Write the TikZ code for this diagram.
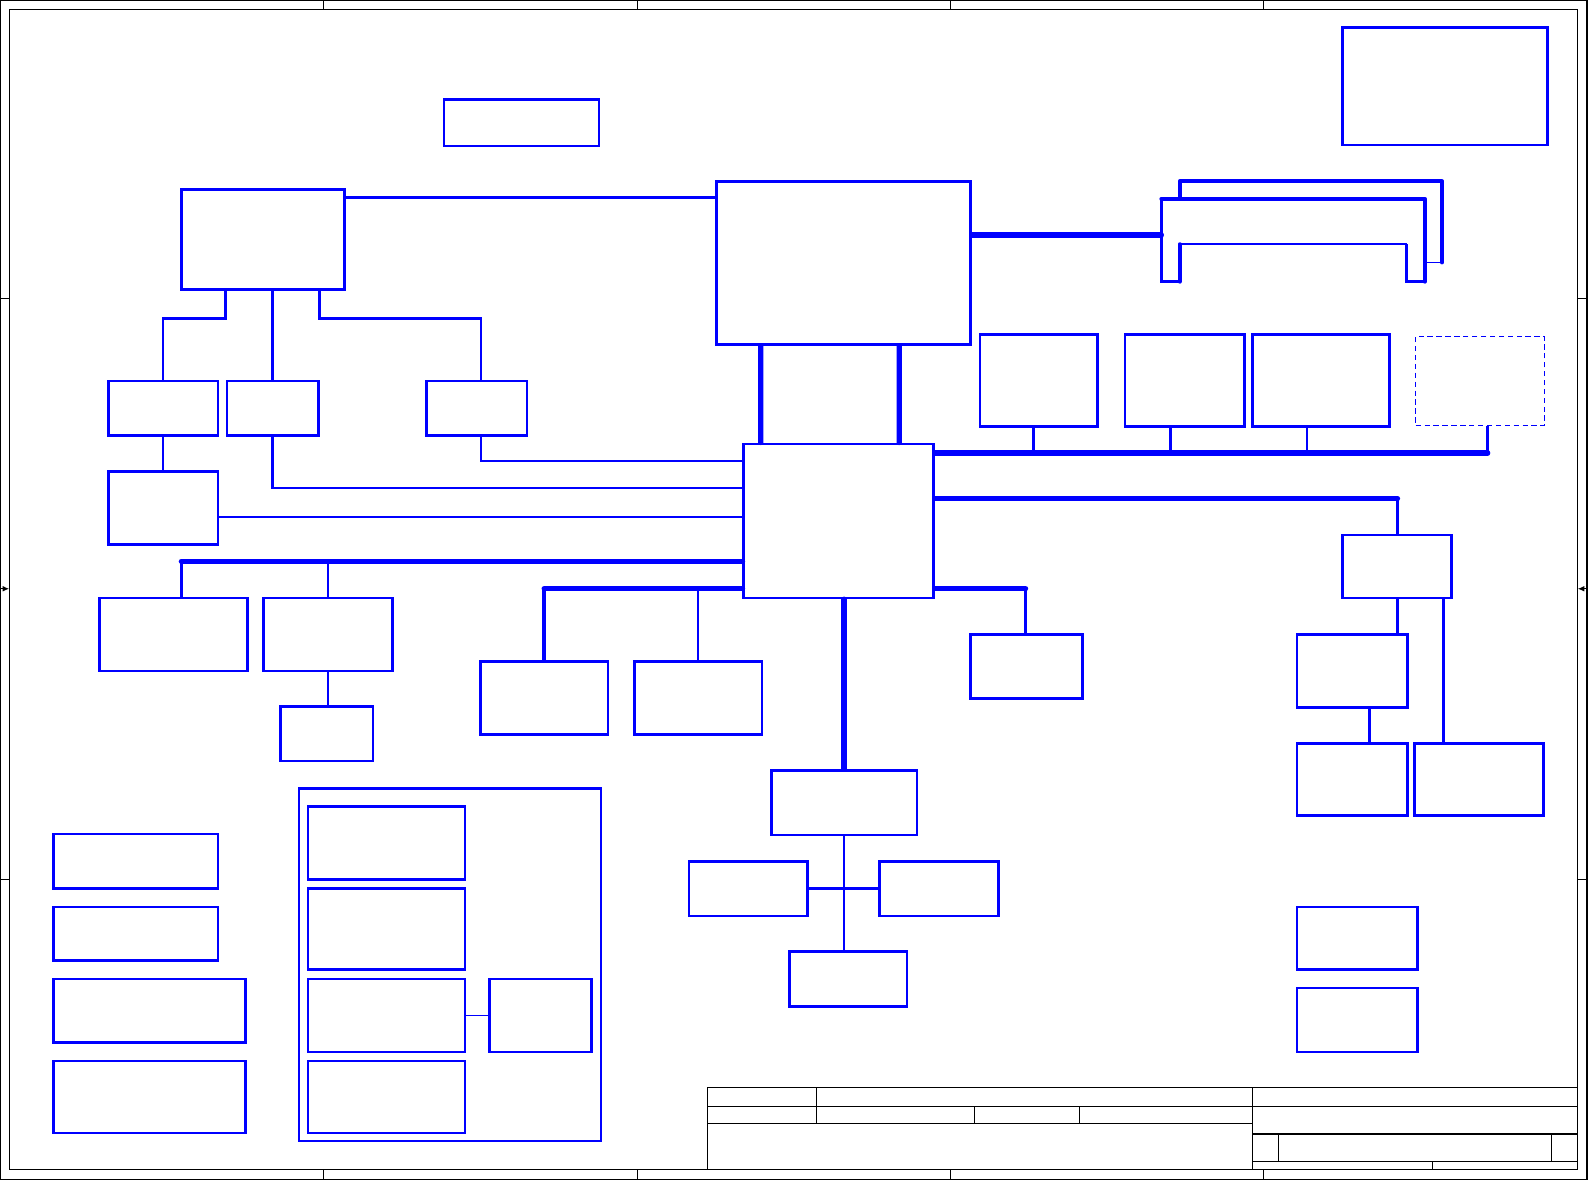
\documentclass[tikz,border=0pt]{standalone}
\usetikzlibrary{calc,arrows.meta}
\begin{document}
\begin{tikzpicture}[x=0.01cm, y=-0.01cm,
    box/.style={draw=blue, line width=0.75pt, inner sep=0pt},
    sig/.style={draw=blue, line width=0.7pt},
    thin/.style={draw=blue, line width=0.5pt},
    bus/.style={draw=blue, line width=1.5pt, line cap=round},
    slot/.style={draw=blue, line width=1.1pt, line cap=round, line join=round},
    frm/.style={draw=black, line width=0.3pt}]
  \useasboundingbox (0,0) rectangle (1568,1164);
  % sheet frame
  \draw[frm] (0.5,0.5) rectangle (1566,1163.5);
  \draw[frm] (9,9) rectangle (1557,1154.5);
  \foreach \x in {319,629,938,1247} {
    \draw[frm] (\x,0.5) -- (\x,9);
    \draw[frm] (\x,1154.5) -- (\x,1163.5);
  }
  \foreach \y in {295,868} {
    \draw[frm] (0.5,\y) -- (9,\y);
    \draw[frm] (1557,\y) -- (1566,\y);
  }
  \draw[frm, -{Latex[length=1.8pt,width=1.6pt]}] (0.5,581) -- (9,581);
  \draw[frm, -{Latex[length=1.8pt,width=1.6pt]}] (1566,581) -- (1557,581);
  % title block
  \draw[frm] (698,1154.5) -- (698,1073) -- (1557,1073);
  \draw[frm] (698,1092) -- (1557,1092);
  \draw[frm] (698,1109) -- (1236,1109);
  \draw[frm] (806,1073) -- (806,1109);
  \draw[frm] (962,1092) -- (962,1109);
  \draw[frm] (1065,1092) -- (1065,1109);
  \draw[frm] (1236,1073) -- (1236,1154.5);
  \draw[frm] (1236,1119) -- (1557,1119);
  \draw[frm] (1236,1146) -- (1557,1146);
  \draw[frm] (1262,1119) -- (1262,1146);
  \draw[frm] (1531,1119) -- (1531,1146);
  \draw[frm] (1414,1146) -- (1414,1154.5);

  % blocks
  \foreach \nm/\xa/\ya/\xb/\yb in {
      clk/438/98/591/144, rev/1325/27/1527/143,
      gpu/179/187/340/286, cpu/707/179/958/340, pch/734/438/921/590,
      lcd/107/376/215/430, crt/224/376/314/430, hdmi/421/376/520/430,
      conn/107/465/215/537,
      r1/967/330/1083/421, r2/1110/330/1228/421, r3/1236/330/1371/421,
      hdd/98/590/244/662, odd/260/590/387/662, odb/277/697/368/751,
      usb1/474/653/600/725, usb2/626/653/752/725, audio/958/626/1068/689,
      card/1325/528/1432/590, rd/1280/626/1389/698,
      lan/1280/734/1389/805, wl/1396/734/1523/805,
      ec/761/760/905/824, tp/680/850/797/904, fl/868/850/985/904,
      kb/779/939/895/993,
      p1/53/823/215/877, p2/53/895/215/948, p3/53/966/242/1029,
      p4/53/1047/242/1118,
      grp/295/778/593/1126, m1/304/796/459/868, m2/304/877/459/957,
      m3/304/966/459/1038, m4/304/1047/459/1118, m5/483/966/584/1038,
      s1/1280/895/1399/957, s2/1280/975/1399/1038} {
    \pgfmathsetmacro{\bw}{(\xb-\xa)*0.01}
    \pgfmathsetmacro{\bh}{(\yb-\ya)*0.01}
    \node[box, minimum width=\bw cm, minimum height=\bh cm]
      (\nm) at ({(\xa+\xb)/2},{(\ya+\yb)/2}) {};
  }
  \node[box, line width=0.35pt, dash pattern=on 1.5pt off 1pt,
    minimum width=1.27cm, minimum height=0.88cm] (r4) at (1460.5,376) {};

  % graphics side
  \coordinate (g1) at ($(gpu.north east)+(0,9)$);
  \draw[sig] (g1) -- (g1 -| cpu.west);
  \draw[sig] (gpu.south -| crt.west) -- ++(0,27) -| (lcd.north);
  \draw[sig] (gpu.south -| crt.north) -- (crt.north);
  \draw[sig] (gpu.south -| crt.east) -- ++(0,27) -| ($(hdmi.north)+(4,0)$);
  \draw[sig] (lcd.south) -- (conn.north);
  \draw[sig] (crt.south) |- ($(pch.north west)+(0,45)$);
  \draw[sig] ($(hdmi.south)+(4,0)$) |- ($(pch.north west)+(0,18)$);
  \coordinate (c1) at ($(conn.east)+(0,9)$);
  \draw[sig] (c1) -- (c1 -| pch.west);

  % cpu links
  \draw[bus] ($(cpu.south west)+(45,0)$) -- ($(pch.north west)+(18,0)$);
  \draw[bus] ($(cpu.south east)+(-72,0)$) -- ($(pch.north east)+(-35,0)$);
  \coordinate (dm) at (1146,232);
  \draw[bus] (dm -| cpu.east) -- (dm);

  % memory slots
  \draw[slot] (1164,196) -- (1164,179) -- (1423,179) -- (1423,259);
  \draw[thin] (1406,259) -- (1423,259);
  \draw[slot] (1146,196) -- (1406,196) -- (1406,278);
  \draw[sig] (1146,196) -- (1146,278) -- (1164,278);
  \draw[slot] (1164,278) -- (1164,241);
  \draw[thin] (1164,241) -- (1388,241);
  \draw[sig] (1388,241) -- (1388,278) -- (1406,278);

  % right side
  \coordinate (b3) at (1468,447);
  \draw[bus] (b3 -| pch.east) -- (b3);
  \foreach \nm/\dx in {r1/-5, r2/-14, r3/-14, r4/7.5}
    \draw[sig] ($(\nm.south)+(\dx,0)$) -- ($(\nm.south |- b3)+(\dx,0)$);
  \coordinate (b4) at (1379,492);
  \draw[bus] (b4 -| pch.east) -- (b4);
  \draw[sig] (b4) -- (b4 |- card.north);
  \draw[sig] (b4 |- card.south) -- (b4 |- rd.north);
  \draw[sig] ($(card.south east)+(-9,0)$) -- ($(card.south east |- wl.north)+(-9,0)$);
  \draw[sig] ($(rd.south)+(17,0)$) -- ($(rd.south |- lan.north)+(17,0)$);
  \coordinate (b5) at (1012,581);
  \draw[bus] (pch.east |- b5) -- (b5);
  \draw[sig] (b5) -- (b5 |- audio.north);

  % left buses
  \coordinate (b1) at (179,554);
  \draw[bus] (b1) -- (b1 -| pch.west);
  \draw[sig, line width=1pt] (b1) -- (b1 |- hdd.north);
  \draw[sig] (b1 -| odd.north) -- (odd.north);
  \draw[sig] (odd.south) -- (odd.south |- odb.north);
  \coordinate (b2) at (537,581);
  \draw[bus] (b2) -- (b2 -| pch.west);
  \draw[sig, line width=1pt] (b2) -- (b2 |- usb1.north);
  \draw[thin] (b2 -| usb2.north) -- (usb2.north);

  % embedded controller
  \draw[bus] (pch.south -| ec.north) -- (ec.north);
  \draw[thin] (ec.south) -- (ec.south |- kb.north);
  \draw[sig] (tp.east) -- (fl.west);

  % power group
  \draw[thin] (m3.east) -- (m5.west);
\end{tikzpicture}
\end{document}
